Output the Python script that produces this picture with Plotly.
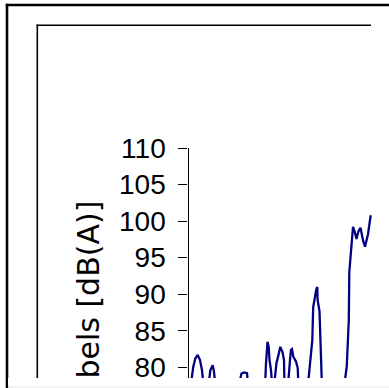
import plotly.graph_objects as go

# Time (s) and noise level (dB(A))
time_s = [0.8, 2.4, 3.4, 4.6, 5.75, 6.75, 7.75,
          9.65, 10.9, 12.1, 12.75, 13.75,
          18.25, 25.25, 26.5, 27.9, 29.25, 29.75,
          33.25, 38.25, 38.75, 39.5, 40.1, 40.5, 41.25, 41.9,
          42.65, 44.0, 45.0, 45.9, 47.0, 47.75, 48.0,
          49.65, 50.75, 51.25, 51.75, 52.4, 53.75, 54.6, 55.05,
          57.25, 59.6, 60.75, 61.9, 62.35, 63.25, 63.85, 64.4, 64.55, 65.5, 66.1, 66.5, 66.75,
          72.25, 77.75, 79.15, 79.75, 80.15, 80.4, 81.25, 82.25, 83.0, 84.0, 84.9, 86.0,
          87.25, 88.25, 89.75, 90.35, 91.1]
level_db = [76.9, 80.1, 81.2, 81.7, 81.0, 79.6, 76.9,
            76.6, 79.6, 80.3, 79.4, 76.6,
            75.5, 77.7, 79.15, 79.3, 79.2, 77.7,
            75.5, 77.2, 80.55, 83.5, 82.8, 81.0, 79.6, 77.2,
            77.2, 80.6, 81.7, 82.8, 82.1, 81.0, 77.2,
            77.2, 81.0, 82.4, 82.5, 81.45, 80.8, 79.9, 77.2,
            75.5, 77.2, 80.2, 83.7, 88.25, 90.0, 90.6, 91.0, 89.2, 87.7, 83.7, 80.3, 77.2,
            75.5, 77.2, 80.2, 83.05, 86.5, 93.0, 96.05, 99.2, 98.65, 97.55, 98.55, 99.1,
            97.4, 96.5, 98.2, 99.75, 100.8]

y_ticks = [80, 85, 90, 95, 100, 105, 110]
y_title = "Decibels [dB(A)]"

W, H = 389, 388


def px(x):
    return x / W


def py(y):
    return (H - y) / H


fig = go.Figure()
fig.add_trace(go.Scatter(x=time_s, y=level_db, mode="lines",
                         line=dict(color="#000080", width=2.3),
                         showlegend=False, hoverinfo="skip"))

fig.update_layout(
    width=W, height=H,
    margin=dict(l=0, r=0, t=0, b=0, pad=0, autoexpand=False),
    paper_bgcolor="white", plot_bgcolor="white",
    xaxis=dict(domain=[px(188.5), 1], range=[0, 100.25], visible=False,
               showgrid=False, zeroline=False, automargin=False),
    yaxis=dict(domain=[py(378), py(148)], range=[78.54, 110],
               tickvals=y_ticks, ticktext=[str(v) for v in y_ticks],
               ticks="outside", ticklen=9, tickwidth=1.3, tickcolor="black",
               showline=True, linecolor="black", linewidth=1.3,
               showgrid=False, zeroline=False, ticklabelstandoff=7, automargin=False,
               tickfont=dict(family="Liberation Sans, Arial", size=28, color="black")),
)

shapes = [
    # outer border
    dict(type="line", xref="paper", yref="paper", x0=px(5.8), x1=px(389), y0=py(5), y1=py(5),
         line=dict(color="black", width=2.6)),
    dict(type="line", xref="paper", yref="paper", x0=px(7), x1=px(7), y0=py(3.8), y1=py(388),
         line=dict(color="black", width=2.6)),
    # inner frame
    dict(type="line", xref="paper", yref="paper", x0=px(36.6), x1=px(371), y0=py(25.2), y1=py(25.2),
         line=dict(color="black", width=1.6)),
    dict(type="line", xref="paper", yref="paper", x0=px(37.3), x1=px(37.3), y0=py(24.5), y1=py(378),
         line=dict(color="black", width=1.6)),
    # bottom strip
    dict(type="rect", xref="paper", yref="paper", x0=px(8.3), x1=px(389), y0=py(386.5), y1=py(388),
         line=dict(width=0), fillcolor="#f0f0f0"),
]
fig.update_layout(shapes=shapes)

annotations = [
    dict(text=y_title, xref="paper", yref="paper", x=px(88), y=py(199),
         xanchor="center", yanchor="top", textangle=-90, showarrow=False,
         font=dict(family="DejaVu Sans", size=30, color="black")),
    # white band (crop of the original picture)
    dict(text="&nbsp;", xref="paper", yref="paper", x=px(8.4), y=py(378.3),
         xanchor="left", yanchor="top", showarrow=False, font=dict(size=4),
         width=380, height=8.2, bgcolor="white", borderpad=0, borderwidth=0),
]
fig.update_layout(annotations=annotations)

fig.write_html("out.html", config={"displayModeBar": False},
               post_script="document.body.style.margin='0px';")
